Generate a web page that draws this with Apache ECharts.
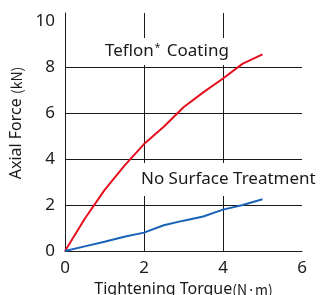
<!DOCTYPE html>
<html>
<head>
<meta charset="utf-8">
<script src="https://cdn.jsdelivr.net/npm/echarts@6/dist/echarts.min.js"></script>
<style>
  html, body { margin: 0; padding: 0; background: #fff; }
  #chart { width: 320px; height: 295px; }
</style>
</head>
<body>
<div id="chart"></div>
<script>
// torque (N·m) vs axial force (kN)
var torque = [0, 0.5, 1, 1.5, 2, 2.5, 3, 3.5, 4, 4.5, 5];
var teflonForce = [0, 1.4, 2.65, 3.7, 4.65, 5.4, 6.25, 6.9, 7.5, 8.15, 8.55];
var plainForce = [0, 0.2, 0.4, 0.62, 0.8, 1.12, 1.32, 1.5, 1.8, 2.0, 2.25];
var xTicks = [0, 2, 4, 6];
var yTicks = [0, 2, 4, 6, 8, 10];

function pairs(xs, ys) {
    return xs.map(function(x, i) { return [x, ys[i]]; });
}

var font = '"Noto Sans", sans-serif';
var cjk = '"Noto Sans CJK JP", sans-serif';
var ink = '#1a1a1a';
var none = "rgba(0,0,0,0)";

var chart = echarts.init(document.getElementById("chart"));
chart.setOption({
    animation: false,
    grid: { left: 65, right: 18, top: 13, bottom: 44, outerBoundsMode: "none" },
    xAxis: {
        type: "value",
        min: 0,
        max: 6,
        interval: 2,
        axisLine: { lineStyle: { color: ink, width: 1 } },
        axisTick: { show: false },
        axisLabel: {
            color: ink, fontSize: 17, fontFamily: font, margin: 9,
            formatter: function(v) { return xTicks.indexOf(v) >= 0 ? String(v) : ""; }
        },
        splitLine: {
            show: true,
            lineStyle: { color: [ink, ink, ink, none], width: 1 }
        },
        name: "Tightening Torque{u|(N·m)}",
        nameLocation: "middle",
        nameGap: 28,
        nameTextStyle: {
            color: ink, fontSize: 16, fontFamily: font,
            rich: { u: { fontSize: 14, fontFamily: cjk, color: ink } }
        }
    },
    yAxis: {
        type: "value",
        min: 0,
        max: 10.35,
        interval: 2,
        axisLine: { show: true, lineStyle: { color: ink, width: 1 } },
        axisTick: { show: false },
        axisLabel: {
            color: ink, fontSize: 17, fontFamily: font, margin: 10,
            formatter: function(v) { return yTicks.indexOf(v) >= 0 ? String(v) : ""; }
        },
        splitLine: {
            show: true,
            lineStyle: { color: [ink, ink, ink, ink, ink, none, none], width: 1 }
        },
        name: "Axial Force {u|(kN)}",
        nameLocation: "middle",
        nameGap: 40,
        nameTextStyle: {
            color: ink, fontSize: 16, fontFamily: font, padding: [0, 0, 0, 18],
            rich: { u: { fontSize: 14, fontFamily: cjk, color: ink } }
        }
    },
    series: [{
        name: "Teflon Coating",
        type: "line",
        data: pairs(torque, teflonForce),
        showSymbol: false,
        lineStyle: { color: "#e60f1e", width: 2 },
        z: 3
    }, {
        name: "No Surface Treatment",
        type: "line",
        data: pairs(torque, plainForce),
        showSymbol: false,
        lineStyle: { color: "#1862b8", width: 2 },
        z: 3
    }],
    graphic: [{
        type: "text",
        left: 102,
        top: 38,
        z: 1,
        style: {
            text: "Teflon{s|*} Coating",
            fill: ink,
            fontSize: 17,
            fontFamily: font,
            backgroundColor: "#fff",
            padding: [5, 3, 5, 3],
            rich: { s: { fontSize: 10, fontFamily: font, verticalAlign: "top", fill: ink, padding: [0, 2, 6, 1] } }
        }
    }, {
        type: "text",
        left: 138,
        top: 163,
        z: 1,
        style: {
            text: "No Surface Treatment",
            fill: ink,
            fontSize: 17,
            fontFamily: font,
            backgroundColor: "#fff",
            padding: [8, 2, 8, 3]
        }
    }]
});
</script>
</body>
</html>
